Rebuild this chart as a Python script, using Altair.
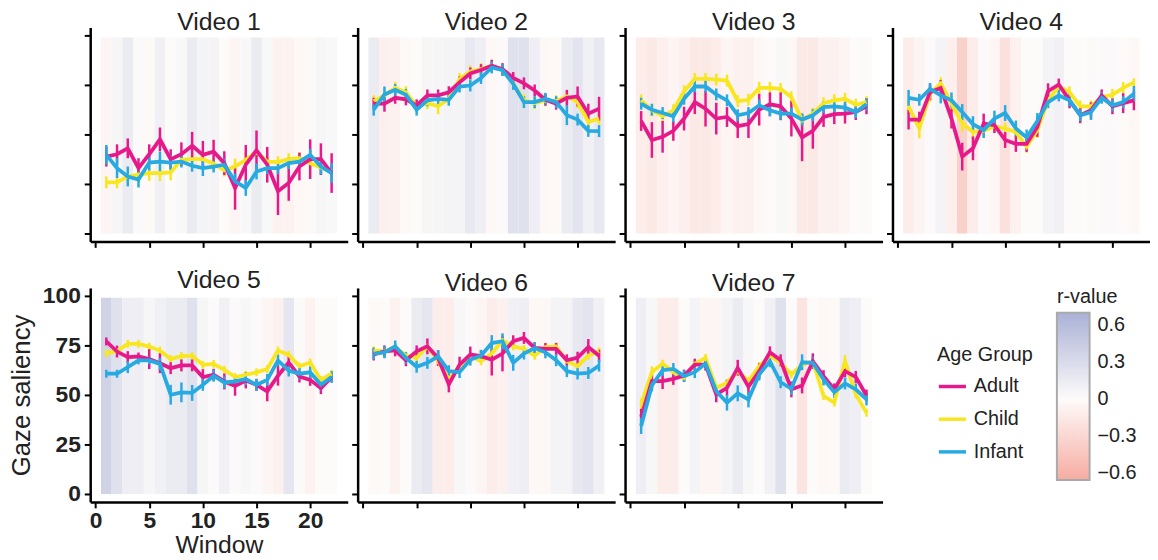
import altair as alt
import pandas as pd

FONT = "Liberation Sans"
WINDOWS = list(range(1, 23))
GROUPS = ["Adult", "Child", "Infant"]
GROUP_COLORS = ["#e6198a", "#f8e620", "#27aae1"]
R_DOMAIN = [-0.66, 0, 0.7]
R_COLORS = ["#f6aca2", "#fdfbfa", "#aab1d6"]
R_TICKS = [-0.6, -0.3, 0, 0.3, 0.6]
X_TICKS = [0, 5, 10, 15, 20]
Y_TICKS = [0, 25, 50, 75, 100]

# ---------------- Video 1 ----------------
V1_ADULT = [38.8, 40, 43, 33, 40, 47.5, 37.5, 40, 44.3, 39.7, 41.3, 35.5, 23, 34.7, 42, 34.7, 21.3, 25.5, 33.8, 37.5, 37.5, 30.5]
V1_ADULT_ERR = [5, 5, 5, 5, 5, 6, 5, 6, 7, 7, 6, 6, 11, 10, 10, 9, 12, 9, 7, 10, 8, 10]
V1_CHILD = [25.8, 25.8, 28.8, 29.7, 30.5, 30.5, 30.8, 37.2, 37.5, 37.5, 35.2, 31.8, 33.8, 37.2, 41.3, 36.3, 36, 37.5, 38, 35.5, 33.3, 31.3]
V1_CHILD_ERR = [3, 3, 3, 4, 4, 4, 4, 3, 3, 3, 3, 3, 4, 4, 3, 3, 3, 3, 3, 3, 3, 3]
V1_INFANT = [39.7, 33, 28.8, 27.2, 35.8, 36.3, 35.8, 36.3, 34.2, 33, 33.8, 34.7, 26.3, 23, 31.3, 33, 33, 35.5, 36.3, 39.7, 33.8, 30.5]
V1_INFANT_ERR = [5, 5, 5, 4, 4, 5, 4, 3, 3, 4, 3, 3, 4, 4, 4, 3, 3, 3, 3, 3, 4, 5]
V1_R = [-0.05, 0.05, 0.15, 0.02, -0.02, 0.1, 0.0, 0.03, 0.15, 0.08, 0.08, 0.0, -0.05, 0.03, 0.15, 0.03, -0.07, -0.07, -0.03, -0.02, 0.05, 0.03]

# ---------------- Video 2 ----------------
V2_ADULT = [65.5, 65.5, 68.5, 67.7, 64.7, 69.7, 69.7, 71.3, 76.3, 80.8, 82.5, 84.7, 83, 78.5, 75.8, 72.2, 67.5, 65.5, 68.5, 69.2, 60.5, 63]
V2_ADULT_ERR = [3, 4, 3, 3, 3, 3, 3, 3, 3, 3, 3, 3, 3, 3, 3, 3, 3, 3, 4, 5, 5, 6]
V2_CHILD = [66.8, 69.7, 73.5, 71.3, 64.2, 65.8, 64.2, 68, 78, 81.8, 83, 84.7, 82.5, 75.8, 67.2, 65.8, 67.2, 66.8, 69.2, 66.3, 56.3, 58]
V2_CHILD_ERR = [3, 3, 3, 3, 3, 3, 4, 3, 3, 3, 3, 3, 3, 3, 3, 3, 3, 3, 3, 3, 3, 3]
V2_INFANT = [62.5, 70.2, 72.5, 70, 62.5, 67.2, 68, 67.5, 74.2, 74.7, 78.5, 83.8, 82.5, 75.5, 66.3, 66.3, 68, 66.3, 59.7, 57.5, 51.8, 51.7]
V2_INFANT_ERR = [3, 4, 3, 3, 3, 3, 3, 3, 3, 3, 3, 3, 3, 3, 3, 3, 3, 3, 5, 3, 3, 3]
V2_R = [0.15, -0.1, -0.08, -0.02, 0.0, 0.05, 0.05, 0.08, 0.08, 0.18, 0.12, -0.03, 0.02, 0.25, 0.25, 0.12, -0.03, -0.02, 0.15, 0.22, 0.1, 0.18]

# ---------------- Video 3 ----------------
V3_ADULT = [56.8, 47.2, 48.8, 51.8, 58, 66.3, 63, 58, 58.8, 54.2, 55.2, 62.5, 65.2, 64.2, 58, 48.5, 51.8, 58.8, 60.2, 60.5, 61.3, 64.2]
V3_ADULT_ERR = [5, 9, 8, 5, 6, 6, 9, 8, 5, 6, 7, 8, 6, 7, 9, 12, 9, 5, 5, 5, 4, 4]
V3_CHILD = [67.2, 62.2, 59.2, 62.2, 71.8, 78, 78, 77.7, 77.2, 66.8, 67.5, 73.5, 73.5, 73, 68.8, 57.2, 60.5, 65.8, 67.2, 68, 65, 66.3]
V3_CHILD_ERR = [3, 3, 3, 3, 3, 3, 3, 3, 3, 3, 3, 3, 3, 3, 3, 3, 3, 3, 3, 3, 3, 3]
V3_INFANT = [65.5, 62.5, 60.8, 59.2, 68, 74.2, 74.2, 70.2, 67.2, 59.7, 60.8, 64.7, 62.2, 60.5, 60.5, 57.5, 59.7, 63.8, 64.2, 63.5, 61.3, 65.2]
V3_INFANT_ERR = [3, 3, 3, 3, 3, 3, 3, 3, 3, 3, 3, 3, 3, 3, 3, 3, 3, 3, 3, 3, 3, 3]
V3_R = [-0.12, -0.15, -0.1, -0.05, -0.1, -0.15, -0.15, -0.12, -0.05, -0.08, -0.08, -0.03, -0.01, 0.03, -0.03, -0.15, -0.15, -0.08, -0.08, -0.05, 0.0, 0.01]

# ---------------- Video 4 ----------------
V4_ADULT = [57.5, 57.5, 71.3, 73.5, 58, 38.8, 43, 55.5, 54.7, 47.2, 45.2, 45.2, 53.8, 71.8, 75.2, 67.2, 59.7, 62.2, 69.7, 64.2, 65.8, 67.2]
V4_ADULT_ERR = [5, 4, 4, 4, 5, 7, 6, 5, 4, 4, 4, 4, 5, 4, 3, 4, 4, 4, 3, 4, 5, 5]
V4_CHILD = [64.2, 53, 70.5, 75.8, 65.5, 55.5, 51.3, 51.8, 54.2, 53, 51.3, 43.8, 52.2, 67.2, 74.2, 71.3, 64.2, 64.2, 68.8, 70, 73.5, 76.3]
V4_CHILD_ERR = [4, 5, 4, 3, 4, 4, 4, 3, 3, 3, 3, 3, 4, 4, 3, 3, 3, 3, 3, 3, 3, 2]
V4_INFANT = [68.5, 67.5, 73, 69.7, 67.2, 61.3, 55.2, 52.2, 58, 60.8, 53, 48.5, 56.8, 66.3, 69.7, 67.2, 59.7, 61.3, 68.5, 64.7, 66.3, 70.5]
V4_INFANT_ERR = [4, 3, 3, 4, 4, 4, 4, 4, 4, 4, 4, 4, 4, 3, 3, 3, 3, 4, 3, 3, 3, 4]
V4_R = [-0.12, -0.06, 0.02, 0.08, -0.1, -0.35, -0.12, 0.02, -0.04, -0.22, -0.08, 0.0, 0.0, 0.08, 0.1, 0.0, 0.0, 0.01, 0.02, 0.02, -0.01, -0.03]

# ---------------- Video 5 ----------------
V5_ADULT = [77.0, 71.9, 69.1, 69.4, 68.1, 66.0, 63.5, 64.9, 64.9, 59.0, 60.2, 56.8, 54.6, 57.3, 55.1, 51.8, 59.7, 66.4, 59.3, 57.6, 53.4, 59.0]
V5_ADULT_ERR = [2, 3, 3, 2, 5, 5, 3, 3, 3, 4, 3, 4, 5, 4, 3, 5, 5, 3, 3, 3, 3, 2]
V5_CHILD = [71.0, 72.2, 75.8, 75.8, 74.4, 72.4, 68.1, 69.7, 69.7, 65.2, 65.7, 62.7, 59.0, 60.2, 61.4, 63.1, 72.4, 70.2, 64.4, 66.4, 57.6, 60.7]
V5_CHILD_ERR = [2, 2, 2, 2, 2, 2, 2, 2, 2, 2, 2, 2, 2, 2, 2, 2, 2, 2, 2, 2, 2, 2]
V5_INFANT = [60.7, 60.7, 64.0, 67.4, 67.4, 65.7, 50.1, 51.3, 51.0, 55.1, 59.7, 56.3, 56.8, 58.0, 55.1, 57.6, 67.4, 62.3, 60.7, 61.4, 55.1, 59.0]
V5_INFANT_ERR = [2, 2, 3, 2, 2, 3, 5, 5, 4, 3, 3, 3, 3, 3, 3, 3, 3, 3, 3, 3, 3, 3]
V5_R = [0.38, 0.25, 0.12, 0.12, 0.05, 0.1, 0.15, 0.15, 0.25, 0.05, 0.02, 0.1, 0.02, 0.04, 0.02, -0.05, -0.08, 0.2, 0.01, -0.07, 0.0, 0.0]

# ---------------- Video 6 ----------------
V6_ADULT = [70.4, 72.0, 72.5, 67.5, 72.0, 74.5, 68.6, 55.3, 65.3, 70.4, 69.6, 67.8, 70.9, 77.1, 78.8, 73.7, 73.2, 73.2, 67.5, 68.8, 74.2, 69.8]
V6_ADULT_ERR = [3, 3, 3, 3, 3, 4, 4, 4, 4, 4, 3, 8, 9, 3, 3, 3, 3, 3, 3, 3, 4, 3]
V6_CHILD = [72.5, 72, 74.2, 69.8, 68.7, 74.5, 67, 57.8, 64.5, 69.8, 67, 70.9, 77.6, 74.5, 73.2, 69.8, 74.2, 74.5, 67, 64.5, 69.8, 72]
V6_CHILD_ERR = [2, 2, 2, 2, 2, 2, 2, 2, 2, 2, 2, 2, 2, 2, 2, 2, 2, 2, 2, 2, 2, 2]
V6_INFANT = [70.9, 71.5, 74.5, 68.7, 64.2, 66.2, 69.5, 62, 61.5, 67.8, 69.8, 76.2, 77.1, 66.2, 70.9, 73.7, 71.5, 67.5, 62, 60.8, 61.1, 64.8]
V6_INFANT_ERR = [3, 3, 3, 3, 3, 3, 3, 3, 3, 3, 3, 4, 4, 4, 3, 3, 3, 3, 3, 3, 3, 3]
V6_R = [-0.02, 0.0, -0.07, 0.0, 0.15, 0.2, -0.12, -0.12, 0.04, 0.02, -0.05, -0.12, -0.08, 0.1, 0.12, -0.03, -0.03, 0.08, 0.08, 0.18, 0.22, 0.1]

# ---------------- Video 7 ----------------
V7_ADULT = [39.0, 57, 57, 58.1, 59.8, 65.3, 65.3, 50.3, 53.6, 63.7, 54.1, 62, 71.5, 67.5, 52.8, 54.8, 67, 59.5, 52.8, 62, 59.1, 49.7]
V7_ADULT_ERR = [4, 4, 4, 3, 3, 3, 3, 4, 4, 4, 4, 4, 3, 3, 4, 4, 4, 3, 3, 3, 3, 3]
V7_CHILD = [45.2, 61.5, 65.8, 61.5, 58.6, 65.8, 68.7, 53.6, 56.1, 62, 57, 64.5, 69.8, 66.2, 60.3, 65.3, 67, 49.4, 46.1, 67, 50.3, 41.0]
V7_CHILD_ERR = [3, 3, 2, 2, 2, 2, 2, 2, 2, 2, 2, 2, 2, 2, 2, 2, 2, 2, 2, 3, 2, 2]
V7_INFANT = [34.3, 54.8, 62.5, 63.1, 59.5, 61.5, 65.8, 51.9, 46.1, 50.8, 47.7, 60.3, 67, 56.4, 53.1, 66.5, 66.2, 57.8, 51.4, 55.8, 52.8, 47.7]
V7_INFANT_ERR = [4, 3, 3, 3, 3, 3, 3, 3, 4, 4, 4, 3, 3, 3, 3, 4, 3, 3, 3, 3, 3, 3]
V7_R = [0.12, 0.04, -0.12, -0.12, 0.0, 0.08, -0.05, -0.05, 0.08, 0.15, 0.04, 0.0, 0.1, 0.25, 0.0, -0.18, 0.0, -0.03, -0.02, 0.15, 0.12, 0.0]

VIDEOS = [
    ("Video 1", V1_ADULT, V1_ADULT_ERR, V1_CHILD, V1_CHILD_ERR, V1_INFANT, V1_INFANT_ERR, V1_R),
    ("Video 2", V2_ADULT, V2_ADULT_ERR, V2_CHILD, V2_CHILD_ERR, V2_INFANT, V2_INFANT_ERR, V2_R),
    ("Video 3", V3_ADULT, V3_ADULT_ERR, V3_CHILD, V3_CHILD_ERR, V3_INFANT, V3_INFANT_ERR, V3_R),
    ("Video 4", V4_ADULT, V4_ADULT_ERR, V4_CHILD, V4_CHILD_ERR, V4_INFANT, V4_INFANT_ERR, V4_R),
    ("Video 5", V5_ADULT, V5_ADULT_ERR, V5_CHILD, V5_CHILD_ERR, V5_INFANT, V5_INFANT_ERR, V5_R),
    ("Video 6", V6_ADULT, V6_ADULT_ERR, V6_CHILD, V6_CHILD_ERR, V6_INFANT, V6_INFANT_ERR, V6_R),
    ("Video 7", V7_ADULT, V7_ADULT_ERR, V7_CHILD, V7_CHILD_ERR, V7_INFANT, V7_INFANT_ERR, V7_R),
]

W, H = 260, 216

color_scale = alt.Scale(domain=GROUPS, range=GROUP_COLORS)
color_legend = alt.Legend(
    title="Age Group", orient="none", legendX=855, legendY=321,
    symbolType="stroke", symbolStrokeWidth=3.5, symbolSize=750, labelFontSize=20, titleFontSize=20,
    titleFontWeight="normal", labelFont=FONT, titleFont=FONT, rowPadding=7, titlePadding=6,
    labelOffset=6, padding=0, labelColor="#222", titleColor="#222",
)
fill_scale = alt.Scale(domain=R_DOMAIN, range=R_COLORS, interpolate="rgb")
fill_legend = alt.Legend(
    title="r-value", orient="none", legendX=976, legendY=262,
    direction="vertical", gradientLength=169, gradientThickness=33, gradientStrokeColor="#aaaaaa",
    gradientStrokeWidth=2, values=R_TICKS, format=".1~f", labelFontSize=20, titleFontSize=20,
    titleFontWeight="normal", labelFont=FONT, titleFont=FONT, labelOffset=8, padding=0,
    titlePadding=6, labelColor="#222", titleColor="#222",
)


def panel(title, adult, adult_err, child, child_err, infant, infant_err, r, show):
    rows = []
    for g, vals, errs in [("Child", child, child_err), ("Adult", adult, adult_err), ("Infant", infant, infant_err)]:
        for w, m, e in zip(WINDOWS, vals, errs):
            rows.append({"window": w, "group": g, "mean": m, "err": e})
    df = pd.DataFrame(rows)
    bdf = pd.DataFrame({"window": WINDOWS, "r": r})

    xs = alt.Scale(domain=[-0.5, 23.5], nice=False, zero=False)
    ys = alt.Scale(domain=[-4, 104], nice=False, zero=False)
    xaxis = alt.Axis(values=X_TICKS, labels=show, title="Window" if show else None,
                     labelFontSize=23, labelFontWeight="bold", titleFontSize=25,
                     titleFontWeight="normal", labelPadding=2, titlePadding=0)
    yaxis = alt.Axis(values=Y_TICKS, labels=show, title="Gaze saliency" if show else None,
                     labelFontSize=23, labelFontWeight="bold", titleFontSize=26,
                     titleFontWeight="normal", labelPadding=4, titlePadding=8)

    bands = alt.Chart(bdf).transform_calculate(
        x0="datum.window - 0.5", x1="datum.window + 0.5", y0="0", y1="99"
    ).mark_rect(strokeWidth=0).encode(
        x=alt.X("x0:Q", scale=xs, axis=xaxis),
        x2="x1:Q",
        y=alt.Y("y0:Q", scale=ys, axis=yaxis),
        y2="y1:Q",
        fill=alt.Fill("r:Q", scale=fill_scale, legend=fill_legend),
    )
    data = alt.Chart(df).transform_calculate(lo="datum.mean - datum.err", hi="datum.mean + datum.err")
    errbars = data.mark_rule(strokeWidth=2.5).encode(
        x=alt.X("window:Q", scale=xs, axis=xaxis),
        y=alt.Y("lo:Q", scale=ys, axis=yaxis),
        y2="hi:Q",
        color=alt.Color("group:N", scale=color_scale, legend=color_legend),
    )
    lines = data.mark_line(strokeWidth=3.8).encode(
        x=alt.X("window:Q", scale=xs, axis=xaxis),
        y=alt.Y("mean:Q", scale=ys, axis=yaxis),
        color=alt.Color("group:N", scale=color_scale, legend=color_legend),
    )
    return alt.layer(bands, errbars, lines).properties(
        width=W, height=H,
        title=alt.TitleParams(title, fontSize=25, font=FONT, fontWeight="normal", color="#222", offset=-8),
    )


panels = [panel(*v, show=(v[0] == "Video 5")) for v in VIDEOS]

chart = alt.concat(
    *panels, columns=4, spacing={"row": 47, "column": 10}, bounds="flush"
).resolve_scale(
    x="independent", y="independent", color="shared", fill="shared"
).properties(padding=0).configure_view(stroke=None).configure_axis(
    grid=False, domainColor="#000", domainWidth=2.5, tickColor="#000", tickWidth=2, tickSize=6,
    labelFont=FONT, titleFont=FONT, labelColor="#222", titleColor="#222",
)

chart.save("out.html", embed_options={"renderer": "svg", "actions": False})
